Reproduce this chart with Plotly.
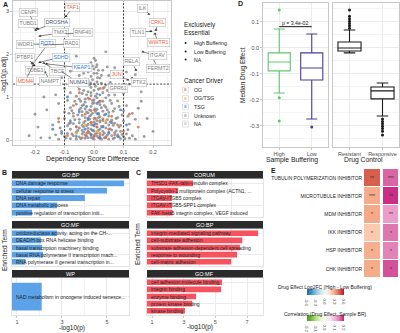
import plotly.graph_objects as go

W, H = 400, 333
FONT = "Liberation Sans, Arial, sans-serif"
TXT = "#1a1a1a"
TICK = "#4D4D4D"
GRID = "#EBEBEB"
BORDER = "#C8C8C8"

# ---------------- Panel A data (dependency score difference vs -log10 p.adj) ----------------
unknown_pts = [
    (-0.15, 0.05), (-0.13, 0.12), (-0.12, 0.02), (-0.11, 0.2), (-0.1, 0.08), (-0.09, 0.15), (-0.08, 0.03),
    (-0.08, 0.25), (-0.07, 0.1), (-0.06, 0.18), (-0.06, 0.02), (-0.05, 0.28), (-0.05, 0.07), (-0.04, 0.14),
    (-0.04, 0.22), (-0.03, 0.04), (-0.03, 0.11), (-0.02, 0.19), (-0.02, 0.27), (-0.01, 0.06), (-0.01, 0.13),
    (0.0, 0.02), (0.0, 0.21), (0.01, 0.09), (0.01, 0.16), (0.02, 0.25), (0.02, 0.04), (0.03, 0.12), (0.03, 0.2),
    (0.04, 0.07), (0.04, 0.28), (0.05, 0.15), (0.05, 0.02), (0.06, 0.1), (0.06, 0.23), (0.07, 0.05), (0.07, 0.17),
    (0.08, 0.12), (0.09, 0.03), (0.09, 0.2), (0.1, 0.08), (0.11, 0.14), (0.12, 0.04), (0.13, 0.1), (0.14, 0.02),
    (-0.14, 0.35), (-0.12, 0.42), (-0.1, 0.5), (-0.09, 0.33), (-0.08, 0.45), (-0.07, 0.38), (-0.07, 0.55),
    (-0.06, 0.31), (-0.05, 0.48), (-0.05, 0.4), (-0.04, 0.34), (-0.04, 0.57), (-0.03, 0.44), (-0.03, 0.52),
    (-0.02, 0.36), (-0.02, 0.47), (-0.01, 0.41), (-0.01, 0.58), (0.0, 0.33), (0.0, 0.5), (0.01, 0.45),
    (0.01, 0.37), (0.02, 0.54), (0.02, 0.42), (0.03, 0.32), (0.03, 0.49), (0.04, 0.4), (0.05, 0.56),
    (0.05, 0.35), (0.06, 0.46), (0.07, 0.39), (0.08, 0.52), (0.09, 0.34), (0.1, 0.44), (0.12, 0.37), (0.14, 0.48),
    (-0.16, 0.7), (-0.12, 0.85), (-0.1, 0.65), (-0.09, 0.92), (-0.08, 0.75), (-0.07, 0.62), (-0.06, 0.83),
    (-0.05, 0.7), (-0.05, 0.95), (-0.04, 0.66), (-0.04, 0.8), (-0.03, 0.88), (-0.03, 0.72), (-0.02, 0.63),
    (-0.02, 0.97), (-0.01, 0.78), (-0.01, 0.68), (0.0, 0.86), (0.0, 0.93), (0.01, 0.71), (0.01, 0.61),
    (0.02, 0.82), (0.02, 0.9), (0.03, 0.67), (0.04, 0.76), (0.04, 0.98), (0.05, 0.64), (0.06, 0.85),
    (0.07, 0.73), (0.08, 0.91), (0.1, 0.68), (0.11, 0.8), (0.13, 0.62), (0.15, 0.74),
    (-0.13, 1.05), (-0.1, 1.2), (-0.08, 1.1), (-0.07, 1.32), (-0.06, 1.02), (-0.05, 1.18), (-0.04, 1.08),
    (-0.03, 1.26), (-0.02, 1.12), (-0.02, 1.38), (-0.01, 1.03), (-0.01, 1.22), (0.0, 1.15), (0.0, 1.3),
    (0.01, 1.07), (0.01, 1.35), (0.02, 1.2), (0.03, 1.1), (0.04, 1.28), (0.05, 1.04), (0.06, 1.16),
    (0.08, 1.25), (0.1, 1.08), (0.12, 1.3), (0.16, 1.12),
    (-0.11, 1.45), (-0.08, 1.6), (-0.05, 1.5), (-0.04, 1.72), (-0.03, 1.42), (-0.02, 1.58), (-0.01, 1.8),
    (-0.01, 1.48), (0.0, 1.65), (0.0, 1.9), (0.01, 1.55), (0.01, 1.75), (0.02, 1.44), (0.03, 1.62),
    (0.05, 1.5), (0.07, 1.68), (0.09, 1.46), (0.11, 1.58), (0.14, 1.52), (0.04, 2.05), (-0.06, 1.95),
    (-0.02, 0.05), (0.0, 0.08), (0.02, 0.1), (-0.01, 0.25), (0.01, 0.3), (0.0, 0.42), (-0.015, 0.55),
    (0.015, 0.6), (0.005, 0.72), (-0.005, 0.85), (0.01, 0.98), (-0.01, 1.1), (0.005, 1.25), (-0.005, 1.4),
    (0.0, 1.55), (0.008, 1.7), (-0.008, 0.35), (0.02, 0.45), (-0.025, 0.65), (0.025, 0.75), (-0.03, 0.95),
    (0.03, 0.9), (-0.012, 1.33), (0.012, 1.45), (-0.22, 0.1), (-0.19, 0.3), (-0.18, 0.05), (0.17, 0.08),
    (0.2, 0.2), (0.18, 0.5), (-0.2, 0.6), (0.16, 0.9), (-0.17, 1.0), (-0.115, 0.28), (-0.085, 0.62),
    (0.085, 0.3), (0.115, 0.55), (-0.035, 0.18), (0.035, 0.05), (-0.045, 0.9), (0.045, 1.15),
    (-0.095, 0.04), (-0.075, 0.14), (-0.055, 0.22), (-0.045, 0.03), (-0.035, 0.3), (-0.025, 0.09),
    (-0.015, 0.16), (-0.005, 0.04), (0.005, 0.14), (0.015, 0.22), (0.025, 0.02), (0.035, 0.16),
    (0.045, 0.11), (0.055, 0.26), (0.065, 0.03), (0.075, 0.21), (0.085, 0.07), (0.095, 0.13),
    (0.105, 0.03), (0.115, 0.24), (-0.085, 0.38), (-0.065, 0.47), (-0.055, 0.58), (-0.035, 0.4),
    (-0.025, 0.33), (-0.015, 0.48), (-0.005, 0.62), (0.005, 0.38), (0.015, 0.52), (0.025, 0.31),
    (0.035, 0.58), (0.045, 0.47), (0.055, 0.42), (0.065, 0.34), (0.075, 0.5), (0.095, 0.58),
    (-0.075, 0.68), (-0.065, 0.9), (-0.045, 0.74), (-0.035, 0.82), (-0.015, 0.7), (-0.005, 0.92),
    (0.005, 0.66), (0.015, 0.88), (0.035, 0.8), (0.045, 0.7), (0.055, 0.92), (0.065, 0.67), (0.085, 0.78),
    (-0.055, 1.25), (-0.035, 1.15), (-0.025, 1.05), (-0.015, 1.28), (0.005, 1.02), (0.015, 1.18),
    (0.025, 1.32), (0.035, 1.22), (0.055, 1.34), (0.07, 1.05), (-0.035, 1.55), (-0.015, 1.66),
    (0.005, 1.85), (0.015, 1.62), (0.025, 1.5), (-0.005, 1.72), (0.045, 1.7),
]
og_pts = [
    (-0.09, 0.1), (-0.06, 0.3), (-0.04, 0.05), (-0.03, 0.6), (-0.02, 0.2), (-0.01, 0.4), (0.0, 0.1),
    (0.0, 0.7), (0.01, 0.3), (0.02, 0.15), (0.02, 0.9), (0.03, 0.45), (0.04, 0.05), (0.05, 0.25),
    (0.06, 0.55), (0.07, 0.12), (0.08, 0.35), (0.1, 0.2), (-0.07, 0.8), (-0.05, 1.1), (0.03, 1.2),
    (-0.12, 0.5), (0.12, 0.6), (0.15, 0.3), (-0.015, 0.95), (0.015, 0.05), (-0.025, 0.15), (0.005, 0.5),
]
tsg_pts = [
    (-0.11, 0.15), (-0.08, 0.4), (-0.06, 0.08), (-0.05, 0.65), (-0.03, 0.25), (-0.02, 0.5), (-0.01, 0.12),
    (0.0, 0.35), (0.01, 0.85), (0.02, 0.05), (0.03, 0.3), (0.04, 0.6), (0.05, 0.18), (0.06, 0.4),
    (0.08, 0.08), (0.09, 0.7), (-0.09, 1.0), (-0.04, 1.3), (0.02, 1.05), (-0.14, 0.25), (0.11, 0.35),
    (-0.025, 0.78), (-0.005, 0.22), (0.015, 0.62),
]
ogtsg_pts = [(-0.03, 0.35), (0.01, 0.2), (0.04, 0.45), (-0.06, 0.15)]

genes = ["TAF1", "CENPI", "TUBD1", "DROSHA", "TMX2", "RNF40", "WDR1", "POT1", "RAD1", "PTBP1",
         "SDHD", "TUBE1", "TBCE", "KEAP1", "MDM4", "NAMPT", "NUMA1", "JUN", "GPR61", "RELA",
         "PTK2", "FERMT2", "ITGAV", "TLN1", "WWTR1", "CRKL", "ILK"]
gene_x = [-0.095, -0.193, -0.197, -0.19, -0.183, -0.095, -0.183, -0.207, -0.173, -0.21,
          -0.183, -0.203, -0.17, -0.16, -0.207, -0.166, -0.108, 0.115, 0.102, 0.142,
          0.129, 0.19, 0.166, 0.193, 0.207, 0.21, 0.186]
gene_y = [2.88, 2.60, 2.56, 2.58, 2.42, 2.47, 2.23, 1.77, 2.21, 1.79,
          1.81, 1.74, 1.79, 1.77, 1.72, 1.58, 1.58, 1.40, 1.30, 1.63,
          1.44, 2.02, 2.05, 2.53, 2.47, 2.56, 2.93]
gene_driver = ["OG", "Unknown", "Unknown", "NA", "Unknown", "Unknown", "Unknown", "TSG", "Unknown", "Unknown",
               "TSG", "Unknown", "Unknown", "TSG", "OG", "Unknown", "NA", "OG", "Unknown", "Unknown",
               "Unknown", "Unknown", "Unknown", "Unknown", "OG", "OG", "Unknown"]
# label offsets (pixels) — styling
lab_dx = [7, -9, -8, 19, 20, 17, -15, 15, 29, -7, 21, 1, 14, 35, -8, 5, 16, -11, -6, -4, 7, 8, 15, -13, 3, 2, -6]
lab_dy = [-9, -16, -6, -7, -3, -1, 0, -20, -1, -6, -5, 5, 8, 4, 15, 9, 10, -5, 4, -8, 4, 15, 4, 1, 9, -7, -6]

# ---------------- Panel D data ----------------
buf_groups = ["High", "Low"]
buf_q1 = [-0.088, -0.123]
buf_med = [-0.054, -0.077]
buf_q3 = [-0.019, -0.019]
buf_lo = [-0.173, -0.273]
buf_hi = [0.073, 0.054]
high_outliers = [0.146, -0.192, -0.281]
low_outliers = [-0.304]
p_label = "p = 3.4e-02"

ctrl_groups = ["Resistant", "Responsive"]
ctrl_q1 = [-0.0115, -0.196]
ctrl_med = [0.0, -0.165]
ctrl_q3 = [0.023, -0.15]
ctrl_lo = [-0.019, -0.262]
ctrl_hi = [0.069, -0.135]
resistant_outliers = [0.076, 0.085, 0.094, 0.103, 0.112, 0.122, 0.146]
responsive_outliers = [-0.273, -0.283, -0.292, -0.301, -0.31, -0.32, -0.335]

# ---------------- Panels B / C data ----------------
b_facets = ["GO:BP", "GO:MF", "WP"]
b_terms = [
    ["DNA damage response", "cellular response to stress", "DNA repair", "DNA metabolic process",
     "positive regulation of transcription initi..."],
    ["oxidoreductase activity, acting on the CH-...", "DEAD/H-box RNA helicase binding",
     "basal transcription machinery binding", "basal RNA polymerase II transcription mach...",
     "RNA polymerase II general transcription in..."],
    ["NAD metabolism in oncogene induced senesce..."],
]
b_vals = [[5.76, 5.0, 4.02, 2.78, 1.67], [2.78, 2.07, 2.12, 2.16, 1.38], [2.1]]

c_facets = ["CORUM", "GO:BP", "GO:MF"]
c_terms = [
    ["THSD1-FAK-talin-vinculin complex", "Polycystin-1 multiprotein complex (ACTN1, ...",
     "ITGAV-ITGB5 complex", "ITGAV-ITGB5-SPP1 complex", "FAK-beta5 integrin complex, VEGF induced"],
    ["integrin-mediated signaling pathway", "cell-substrate adhesion",
     "substrate adhesion-dependent cell spreading", "response to wounding", "cell-matrix adhesion"],
    ["cell adhesion molecule binding", "integrin binding", "enzyme binding",
     "protein kinase binding", "kinase binding"],
]
c_vals = [[3.59, 2.64, 2.26, 2.26, 2.3], [7.7, 6.7, 6.55, 6.37, 6.0], [5.42, 5.36, 3.78, 3.53, 3.08]]

# ---------------- Panel E data ----------------
e_drugs = ["TUBULIN POLYMERIZATION INHIBITOR", "MICROTUBULE INHIBITOR", "MDM INHIBITOR",
           "IKK INHIBITOR", "HSP INHIBITOR", "CHK INHIBITOR"]
e_log2fc = [0.45, 0.28, 0.29, 0.2, 0.27, 0.28]
e_corr = [0.16, 0.19, 0.12, 0.15, 0.14, 0.17]
e_sig_fc = ["**", "***", "*", "*", "*", "*"]
e_sig_corr = ["***", "**", "**", "*", "*", "*"]

# ---------------- helpers ----------------
def px(x):
    return x / W

def py(y):
    return 1 - y / H

DRIVER_COL = {"OG": "#E8613C", "OG/TSG": "#F0B030", "TSG": "#3C7FD6", "Unknown": "#8C8C8C", "NA": "#B5B5B5"}
LABEL_COL = {"OG": "#E8613C", "TSG": "#2F7BE0", "Unknown": "#7A7A7A", "NA": "#3F4F70"}

fig = go.Figure()
ann = []
shapes = []

def text(x, y, s, size, color=TXT, xanchor="center", angle=0, bold=False):
    ann.append(dict(x=px(x), y=py(y), xref="paper", yref="paper", showarrow=False,
                    text=("<b>%s</b>" % s) if bold else s, textangle=angle,
                    font=dict(size=size, color=color, family=FONT),
                    xanchor=xanchor, yanchor="middle"))

def ax_style(**kw):
    d = dict(showgrid=True, gridcolor=GRID, gridwidth=0.6, zeroline=False, showline=True,
             linecolor=BORDER, linewidth=0.7, mirror=True, ticks="outside", ticklen=2,
             tickcolor=BORDER, tickwidth=0.6,
             tickfont=dict(size=5.5, color=TICK, family=FONT))
    d.update(kw)
    return d

# ---------------- Panel A traces ----------------
for pts, key, op in [(unknown_pts, "Unknown", 0.85), (og_pts, "OG", 0.8), (tsg_pts, "TSG", 0.8),
                     (ogtsg_pts, "OG/TSG", 0.85)]:
    fig.add_trace(go.Scatter(x=[p[0] for p in pts], y=[p[1] for p in pts], mode="markers",
                             marker=dict(size=2.9, color=DRIVER_COL[key], opacity=op, line=dict(width=0)),
                             xaxis="x", yaxis="y", showlegend=False, hoverinfo="skip"))
fig.add_trace(go.Scatter(x=gene_x, y=gene_y, mode="markers",
                         marker=dict(size=2.8, color="#333333", symbol="triangle-up", line=dict(width=0)),
                         xaxis="x", yaxis="y", showlegend=False, hoverinfo="skip"))
for g, gx, gy, d, dx, dy in zip(genes, gene_x, gene_y, gene_driver, lab_dx, lab_dy):
    ann.append(dict(x=gx, y=gy, xref="x", yref="y", text=g, showarrow=True, ax=dx, ay=dy,
                    arrowhead=0, arrowwidth=0.6, arrowcolor="#333333", standoff=0,
                    font=dict(size=5.3, color=LABEL_COL[d], family=FONT),
                    bgcolor="white", bordercolor="#BDBDBD", borderwidth=0.6, borderpad=0.8))

shapes += [
    dict(type="line", xref="x", yref="y domain", x0=-0.1, x1=-0.1, y0=0, y1=1,
         line=dict(color="#333333", width=0.9, dash="2px,1.5px")),
    dict(type="line", xref="x", yref="y domain", x0=0.1, x1=0.1, y0=0, y1=1,
         line=dict(color="#333333", width=0.9, dash="2px,1.5px")),
    dict(type="line", xref="x domain", yref="y", x0=0, x1=1, y0=1.3, y1=1.3,
         line=dict(color="#333333", width=0.9, dash="2px,1.5px")),
]

# ---------------- Panel D traces ----------------
BUF_COL = {"High": "#5CC86E", "Low": "#4B3D8F"}
for i, g in enumerate(buf_groups):
    fig.add_trace(go.Box(x=[g], q1=[buf_q1[i]], median=[buf_med[i]], q3=[buf_q3[i]],
                         lowerfence=[buf_lo[i]], upperfence=[buf_hi[i]], width=0.68,
                         fillcolor="white", line=dict(color=BUF_COL[g], width=1.1),
                         boxpoints=False, xaxis="x2", yaxis="y2", showlegend=False, hoverinfo="skip"))
fig.add_trace(go.Scatter(x=["High"] * len(high_outliers), y=high_outliers, mode="markers",
                         marker=dict(size=3, color=BUF_COL["High"]), xaxis="x2", yaxis="y2",
                         showlegend=False, hoverinfo="skip"))
fig.add_trace(go.Scatter(x=["Low"] * len(low_outliers), y=low_outliers, mode="markers",
                         marker=dict(size=3, color=BUF_COL["Low"]), xaxis="x2", yaxis="y2",
                         showlegend=False, hoverinfo="skip"))
for i, g in enumerate(ctrl_groups):
    fig.add_trace(go.Box(x=[g], q1=[ctrl_q1[i]], median=[ctrl_med[i]], q3=[ctrl_q3[i]],
                         lowerfence=[ctrl_lo[i]], upperfence=[ctrl_hi[i]], width=0.7,
                         fillcolor="white", line=dict(color="#1a1a1a", width=1.1),
                         boxpoints=False, xaxis="x3", yaxis="y3", showlegend=False, hoverinfo="skip"))
fig.add_trace(go.Scatter(x=["Resistant"] * len(resistant_outliers) + ["Responsive"] * len(responsive_outliers),
                         y=resistant_outliers + responsive_outliers, mode="markers",
                         marker=dict(size=3, color="#1a1a1a"), xaxis="x3", yaxis="y3",
                         showlegend=False, hoverinfo="skip"))
shapes.append(dict(type="line", xref="x2", yref="y2", x0="High", x1="Low", y0=0.082, y1=0.082,
                   line=dict(color="#1a1a1a", width=1)))
ann.append(dict(x=0.5, y=0.082, xref="x2", yref="y2", text=p_label, showarrow=False, yanchor="bottom",
                font=dict(size=5.2, color=TXT, family=FONT), yshift=-1))

# ---------------- Panels B / C ----------------
facet_rows = [(171, 179, 217), (221, 229, 266), (270, 278, 315)]
B_COL = "#5BA2E8"
C_COL = "#F6535F"

def facet_panel(axn, terms, vals, color, xdom, xr, xt, minor, row, last, label):
    s0, p0, p1 = row
    xa = "xaxis%d" % axn
    ya = "yaxis%d" % axn
    fig.add_trace(go.Bar(x=vals, y=terms, orientation="h", width=0.8 if len(terms) > 1 else 0.9,
                         marker=dict(color=color, line=dict(width=0)),
                         xaxis="x%d" % axn, yaxis="y%d" % axn, showlegend=False, hoverinfo="skip"))
    n = len(terms)
    lay = {
        xa: ax_style(domain=[px(xdom[0]), px(xdom[1])], range=xr, anchor="y%d" % axn,
                     tickvals=xt if last else None, showticklabels=last,
                     ticks="outside" if last else "", linecolor="#E3E3E3",
                     minor=dict(tickvals=minor, showgrid=True, gridcolor="#F4F4F4", ticks="")),
        ya: ax_style(domain=[py(p1), py(p0)], type="category", categoryorder="array",
                     categoryarray=terms, range=[n - 1 + 0.6, -0.6], anchor="x%d" % axn,
                     showticklabels=False, ticks="", linecolor="#E3E3E3"),
    }
    fig.update_layout(**lay)
    for t in terms:
        ann.append(dict(x=xr[0], y=t, xref="x%d" % axn, yref="y%d" % axn, text=t, showarrow=False,
                        xanchor="left", xshift=1.5, font=dict(size=5.0, color="#222222", family=FONT)))
    shapes.append(dict(type="rect", xref="paper", yref="paper", x0=px(xdom[0]), x1=px(xdom[1]),
                       y0=py(p0 - 0.5), y1=py(s0), fillcolor="#2B2B2B", line=dict(width=0)))
    text((xdom[0] + xdom[1]) / 2, (s0 + p0) / 2, label, 5.5, color="white")

for k in range(3):
    facet_panel(4 + k, b_terms[k], b_vals[k], B_COL, (12, 129), [0.78, 5.98], [1, 3, 5], [2, 4],
                facet_rows[k], k == 2, b_facets[k])
    facet_panel(7 + k, c_terms[k], c_vals[k], C_COL, (147, 263), [0.68, 8.01], [1, 3, 5, 7], [2, 4, 6],
                facet_rows[k], k == 2, c_facets[k])

# ---------------- Panel E heatmap ----------------
FC_SCALE = [[0, "#2166AC"], [0.125, "#4393C3"], [0.25, "#92C5DE"], [0.375, "#D1E5F0"], [0.5, "#F7F7F7"],
            [0.625, "#FDDBC7"], [0.75, "#F4A582"], [0.875, "#D6604D"], [1, "#B2182B"]]
COR_SCALE = [[0, "#4D9221"], [0.125, "#7FBC41"], [0.25, "#B8E186"], [0.375, "#E6F5D0"], [0.5, "#F7F7F7"],
             [0.625, "#FDE0EF"], [0.75, "#F1B6DA"], [0.875, "#DE77AE"], [1, "#C51B7D"]]
cols = ["fc", "corr"]
fig.add_trace(go.Heatmap(z=[[v, None] for v in e_log2fc], x=cols, y=e_drugs, zmin=-0.6, zmax=0.6,
                         colorscale=FC_SCALE, xgap=3, ygap=1, xaxis="x10", yaxis="y10", hoverinfo="skip",
                         colorbar=dict(orientation="h", x=px(325.5), xanchor="center", y=py(295.5),
                                       yanchor="middle", len=37, lenmode="pixels", thickness=5.5,
                                       thicknessmode="pixels", xpad=0, ypad=0, outlinewidth=0,
                                       tickvals=[-0.6, -0.3, 0, 0.3, 0.6],
                                       ticktext=["-0.6", "-0.3", "0.0", "0.3", "0.6"], ticks="",
                                       tickfont=dict(size=4.3, color=TICK, family=FONT))))
fig.add_trace(go.Heatmap(z=[[None, v] for v in e_corr], x=cols, y=e_drugs, zmin=-0.2, zmax=0.2,
                         colorscale=COR_SCALE, xgap=3, ygap=1, xaxis="x10", yaxis="y10", hoverinfo="skip",
                         colorbar=dict(orientation="h", x=px(325.5), xanchor="center", y=py(322),
                                       yanchor="middle", len=37, lenmode="pixels", thickness=5.5,
                                       thicknessmode="pixels", xpad=0, ypad=0, outlinewidth=0,
                                       tickvals=[-0.2, -0.1, 0, 0.1, 0.2],
                                       ticktext=["-0.2", "-0.1", "0.0", "0.1", "0.2"], ticks="",
                                       tickfont=dict(size=4.3, color=TICK, family=FONT))))
for d, s1, s2 in zip(e_drugs, e_sig_fc, e_sig_corr):
    ann.append(dict(x="fc", y=d, xref="x10", yref="y10", text=s1, showarrow=False,
                    font=dict(size=5, color="#333333", family=FONT)))
    ann.append(dict(x="corr", y=d, xref="x10", yref="y10", text=s2, showarrow=False,
                    font=dict(size=5, color="#333333", family=FONT)))
text(325, 287, "Drug Effect Log2FC (High - Low Buffering)", 5.0)
text(325, 314, "Correlation (Drug Effect, Sample BR)", 5.0)

# ---------------- Panel A legend ----------------
text(182, 25, "Exclusively", 6.3, xanchor="left")
text(182, 32.5, "Essential", 6.3, xanchor="left")
for yy, lab in zip([43, 51.5, 59.5], ["High Buffering", "Low Buffering", "NA"]):
    shapes.append(dict(type="circle", xref="paper", yref="paper", x0=px(184.6), x1=px(186.6),
                       y0=py(yy + 1), y1=py(yy - 1), fillcolor="#1a1a1a", line=dict(width=0)))
    text(192, yy, lab, 5.2, xanchor="left")
text(182, 80, "Cancer Driver", 6.3, xanchor="left")
for yy, lab in zip([90, 98.5, 107, 115.5, 124], ["OG", "OG/TSG", "TSG", "Unknown", "NA"]):
    shapes.append(dict(type="rect", xref="paper", yref="paper", x0=px(182.5), x1=px(188.5),
                       y0=py(yy + 3), y1=py(yy - 3), fillcolor="white",
                       line=dict(color="#D0D0D0", width=0.6)))
    text(185.5, yy - 0.3, "a", 4.5, color=DRIVER_COL[lab])
    text(192, yy, lab, 5.2, xanchor="left")

# ---------------- titles & panel letters ----------------
text(92, 159, "Dependency Score Difference", 7)
text(4, 75, "-log10(p.adj)", 6.5, angle=-90)
text(243, 75, "Median Drug Effect", 6.5, angle=-90)
text(292, 160, "Sample Buffering", 6.8)
text(363, 160, "Drug Control", 6.8)
text(72, 328, "-log10(p)", 6.5)
text(200, 327, "-log10(p)", 6.5)
text(5, 250, "Enriched Term", 6.5, angle=-90)
text(137, 244, "Enriched Term", 6.5, angle=-90)
text(5, 5, "A", 7, bold=True)
text(4, 172, "B", 7, bold=True)
text(138, 172, "C", 7, bold=True)
text(240, 4, "D", 7, bold=True)
text(273, 170, "E", 7, bold=True)

fig.update_layout(
    width=W, height=H, margin=dict(l=0, r=0, t=0, b=0),
    paper_bgcolor="white", plot_bgcolor="white", showlegend=False,
    font=dict(family=FONT, color=TXT),
    xaxis=ax_style(domain=[px(13), px(171)], range=[-0.2746, 0.261], anchor="y",
                   tickvals=[-0.2, -0.1, 0, 0.1, 0.2], ticktext=["-0.2", "-0.1", "0.0", "0.1", "0.2"],
                   minor=dict(tickvals=[-0.25, -0.15, -0.05, 0.05, 0.15, 0.25], showgrid=True,
                              gridcolor="#F4F4F4", ticks="")),
    yaxis=ax_style(domain=[py(145), py(1)], range=[-0.116, 3.233], anchor="x", tickvals=[0, 1, 2, 3],
                   minor=dict(tickvals=[0.5, 1.5, 2.5], showgrid=True, gridcolor="#F4F4F4", ticks="")),
    xaxis2=ax_style(domain=[px(263), px(328)], type="category", categoryorder="array",
                    categoryarray=buf_groups, range=[-0.5, 1.5], anchor="y2"),
    yaxis2=ax_style(domain=[py(147), py(3)], range=[-0.381, 0.173], anchor="x2",
                    tickvals=[-0.3, -0.2, -0.1, 0, 0.1], ticktext=["-0.3", "-0.2", "-0.1", "0.0", "0.1"],
                    minor=dict(tickvals=[-0.35, -0.25, -0.15, -0.05, 0.05, 0.15], showgrid=True,
                               gridcolor="#F4F4F4", ticks="")),
    xaxis3=ax_style(domain=[px(333), px(399)], type="category", categoryorder="array",
                    categoryarray=ctrl_groups, range=[-0.5, 1.5], anchor="y3"),
    yaxis3=ax_style(domain=[py(147), py(3)], range=[-0.381, 0.173], anchor="x3", matches="y2",
                    showticklabels=False, ticks="", tickvals=[-0.3, -0.2, -0.1, 0, 0.1],
                    minor=dict(tickvals=[-0.35, -0.25, -0.15, -0.05, 0.05, 0.15], showgrid=True,
                               gridcolor="#F4F4F4", ticks="")),
    xaxis10=dict(domain=[px(363), 1.0], type="category", categoryorder="array", categoryarray=cols,
                 showticklabels=False, showgrid=False, zeroline=False, showline=False, anchor="y10"),
    yaxis10=dict(domain=[py(278), py(169)], type="category", categoryorder="array", categoryarray=e_drugs,
                 autorange="reversed", showgrid=False, zeroline=False, showline=False, ticks="",
                 tickfont=dict(size=4.9, color="#222222", family=FONT), anchor="x10"),
    annotations=ann, shapes=shapes,
)

fig.write_html("out.html", config={"displayModeBar": False})
